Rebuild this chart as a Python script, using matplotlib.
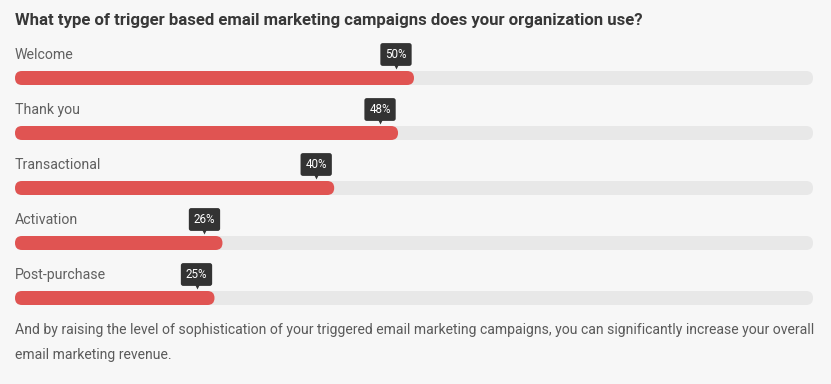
import matplotlib.pyplot as plt
from matplotlib.patches import FancyBboxPatch
from matplotlib.transforms import ScaledTranslation

plt.rcParams['font.family'] = ['Roboto', 'DejaVu Sans']

categories = ['Welcome', 'Thank you', 'Transactional', 'Activation', 'Post-purchase']
values = [50, 48, 40, 26, 25]
title = 'What type of trigger based email marketing campaigns does your organization use?'
footer = ['And by raising the level of sophistication of your triggered email marketing campaigns, you can significantly increase your overall',
          'email marketing revenue.']

W, H = 831, 384
BG = '#f7f7f7'
RED = '#e05452'
TRACK = '#e8e8e8'

fig = plt.figure(figsize=(W / 100, H / 100), dpi=100, facecolor=BG)
# axes: x is percent, spans pixel 15..813; y is pixel rows from top
ax = fig.add_axes([15 / W, 0, 798 / W, 1])
ax.set_xlim(0, 100)
ax.set_ylim(H, 0)
ax.axis('off')

px = 798 / 100  # pixels per percent
bar_h = 14
r = bar_h / 2

def rounded_bar(x0, x1, yc, color):
    p = FancyBboxPatch((x0, yc - bar_h / 2), x1 - x0, bar_h,
                       boxstyle=f'round,pad=0,rounding_size={r / px}',
                       mutation_aspect=px, fc=color, ec='none')
    ax.add_patch(p)

fig.text(15 / W, 1 - 20 / H, title, fontsize=12.1, fontweight='bold',
         color='#383838', va='center', ha='left')

for i, (cat, v) in enumerate(zip(categories, values)):
    yc = 78 + i * 55
    ax.text(0, yc - 23, cat, fontsize=10.2, color='#606060', va='center', ha='left')
    rounded_bar(0, 100, yc, TRACK)
    rounded_bar(0, v, yc, RED)
    # tooltip, shifted left of the bar end
    shift = ScaledTranslation(-18 / 100, 0, fig.dpi_scale_trans)
    tr = ax.transData + shift
    ax.text(v, yc - 23.5, f'{v}%', transform=tr, fontsize=8.4, color='white',
            ha='center', va='center',
            bbox=dict(boxstyle='round,pad=0.42,rounding_size=0.2', fc='#333333', ec='none'))
    ax.plot([v], [yc - 12.5], marker='v', ms=5, color='#333333', mec='none', transform=tr)

for j, line in enumerate(footer):
    fig.text(15 / W, 1 - (330 + j * 25) / H, line, fontsize=10.1, color='#5a5a5a',
             va='center', ha='left')

fig.savefig('out.png', dpi=100, facecolor=BG)
